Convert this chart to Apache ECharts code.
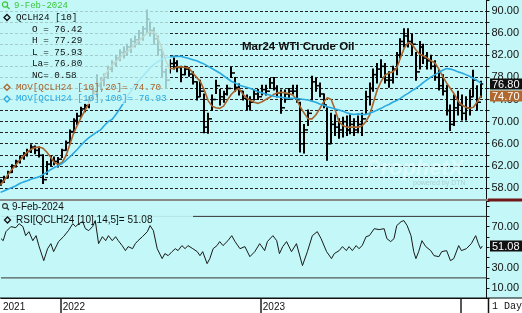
<!DOCTYPE html>
<html><head><meta charset="utf-8">
<script src="https://cdn.jsdelivr.net/npm/echarts@6.0.0/dist/echarts.min.js"></script>
<style>html,body{margin:0;padding:0;background:#c4f7f7;overflow:hidden}#chart{width:522px;height:313px}</style>
</head><body><div id="chart"></div>
<script>
// ---------------- data (weekly samples) ----------------
// day offsets are counted from 14-Sep-2021; price bars are one per week (Wednesday)
const priceLow = [58.5,59.0,59.8,60.8,61.8,62.5,63.2,63.8,64.4,64.2,63.6,58.8,60.5,62.0,62.2,61.8,63.5,64.8,66.0,68.0,69.5,70.8,71.8,72.5,74.0,74.5,75.8,76.5,77.8,79.0,80.0,81.0,81.5,82.0,82.5,83.5,84.0,84.7,86.0,85.5,84.0,82.0,78.0,76.0,78.8,79.5,79.0,77.2,78.5,78.2,76.8,73.9,74.5,68.0,67.9,72.0,75.1,73.0,73.5,74.8,78.0,75.5,74.8,73.9,72.1,72.1,73.9,74.0,74.8,74.8,76.0,75.7,74.5,71.5,73.5,74.0,75.0,73.5,64.5,64.3,69.3,73.9,75.5,74.5,72.5,63.0,66.0,67.5,67.0,67.2,67.5,67.8,67.5,68.0,67.5,71.5,73.0,75.5,77.0,78.0,77.0,76.2,77.0,78.5,81.5,83.5,83.5,82.0,77.5,79.5,80.5,79.5,79.5,77.5,75.7,74.8,71.2,68.4,69.3,71.2,70.3,70.3,71.2,74.5,72.1,74.4];
const priceHigh = [59.5,60.1,61.0,62.2,63.0,63.8,64.4,65.0,65.8,65.6,65.4,64.0,62.8,63.8,63.6,63.5,65.0,66.5,68.5,70.5,71.5,72.6,73.2,74.5,76.0,78.5,78.0,78.6,80.0,81.0,82.0,83.0,83.5,84.0,85.0,85.5,86.5,87.2,90.2,88.0,87.0,85.5,83.0,79.5,81.2,81.5,81.0,80.0,80.0,79.8,79.0,77.2,77.5,75.0,71.5,74.8,77.5,75.8,75.5,76.6,79.8,78.0,76.8,75.5,74.8,74.5,75.7,75.8,76.6,76.6,77.8,78.0,76.5,75.7,75.7,76.0,76.6,76.6,73.5,69.5,72.1,78.2,77.8,77.0,75.0,72.5,71.5,71.2,70.5,70.8,71.0,71.2,70.5,71.0,71.5,75.5,77.0,79.5,80.5,81.2,80.5,79.0,80.0,82.5,85.0,86.8,86.8,85.8,82.5,84.5,84.0,82.5,82.0,81.0,79.3,78.5,76.6,73.0,74.8,75.5,74.8,74.5,75.7,79.3,76.5,77.3];
const priceClose = [59.2,59.8,60.8,62.0,62.8,63.5,64.2,64.6,65.4,64.8,63.9,59.5,62.3,63.0,62.8,63.2,64.8,66.2,68.2,70.2,71.0,72.3,72.9,74.0,75.5,76.5,77.5,78.0,79.5,80.5,81.5,82.5,82.6,83.5,84.5,84.8,86.0,86.8,88.5,86.5,85.0,83.0,79.0,77.5,80.5,80.6,79.8,78.5,79.5,78.6,77.2,74.5,75.5,69.0,70.5,74.0,76.5,74.5,75.0,76.0,78.8,76.2,75.5,74.2,72.8,73.5,75.0,74.5,75.8,75.5,77.0,76.0,75.2,72.5,75.0,75.5,75.5,74.0,66.0,68.5,71.5,77.2,76.5,75.0,73.0,66.0,69.5,69.0,68.5,70.0,68.5,69.5,68.5,69.5,70.5,74.5,76.0,78.5,79.5,80.0,77.5,77.5,79.5,82.0,84.5,85.5,84.5,84.0,79.0,83.5,81.5,81.0,80.0,78.0,76.5,75.5,72.0,69.5,72.5,73.0,71.5,72.5,74.5,77.5,73.5,76.8];
const ma20 = [58.6,59.4,60.5,61.4,62.2,63.0,63.8,64.5,65.0,65.3,65.4,65.2,64.5,63.6,62.6,62.3,62.6,63.8,65.8,67.9,69.4,70.8,72.1,73.3,74.5,76.0,77.2,78.3,79.3,80.2,80.9,81.5,82.2,82.7,83.3,84.0,84.6,85.3,85.9,86.3,86.2,85.0,83.2,81.0,79.6,79.6,79.9,79.9,79.8,79.7,78.8,78.0,77.2,75.7,73.8,72.8,72.5,72.4,72.8,73.9,74.9,75.6,76.0,75.0,74.3,73.8,73.5,73.3,73.6,74.0,74.4,74.9,75.2,75.3,75.2,75.1,74.8,74.0,72.6,71.5,70.5,70.5,71.2,72.3,73.5,74.3,74.0,72.2,70.0,69.3,69.0,69.0,69.0,69.0,69.2,70.0,71.2,73.5,75.8,77.3,78.4,78.8,79.0,79.6,81.5,83.3,84.3,84.0,83.0,82.2,81.9,81.5,81.0,80.6,79.5,78.2,77.0,76.0,75.0,73.7,73.0,72.6,72.4,72.6,73.6,74.7];
const ma100 = [57.2,57.5,57.8,58.1,58.4,58.8,59.1,59.3,59.6,59.8,60.0,60.4,60.8,61.3,61.7,62.0,62.4,63.0,63.6,64.3,65.0,65.8,66.5,67.1,67.6,68.1,68.5,69.3,70.0,70.4,71.3,72.3,73.4,74.6,75.6,76.6,77.4,78.2,79.0,79.8,80.4,80.9,81.3,81.6,81.7,81.8,81.8,81.8,81.6,81.4,81.2,81.0,80.7,80.4,80.0,79.6,79.2,78.8,78.3,77.8,77.3,77.0,76.6,76.4,76.2,76.0,75.7,75.4,75.2,75.0,74.8,74.6,74.5,74.4,74.3,74.2,74.2,74.2,74.1,74.0,73.9,73.7,73.5,73.2,73.0,72.7,72.5,72.3,72.1,71.9,71.6,71.4,71.3,71.4,71.3,71.3,71.5,71.8,72.1,72.4,72.8,73.1,73.5,73.8,74.2,74.7,75.1,75.6,76.0,76.5,77.1,77.6,78.1,78.5,78.9,79.3,79.6,79.5,79.3,79.0,78.8,78.5,78.2,77.8,77.4,76.93];
const rsiDay = [0,4,9,18,27,33,40,45,51,58,64,69,78,85,91,96,105,114,123,131,136,142,149,154,160,167,172,178,185,191,196,203,209,214,221,227,232,240,245,250,258,267,272,278,285,294,299,305,312,318,323,330,336,341,350,358,363,368,376,381,387,394,399,405,414,421,427,436,445,454,463,472,481,486,496,503,508,514,521,530,539,550,559,568,577,584,594,603,608,617,623,630,635,641,648,653,659,666,672,681,690,699,704,711,717,722,730,735,741,748,753,757,762,768,775,784,790,799,804,813,820,826,835,840,849,858,866,871,875,878];
const rsiVal = [58.3,56.3,65.1,70.0,69.0,72.9,70.0,61.2,65.1,56.3,61.2,51.5,36.8,48.5,53.4,45.6,55.4,60.2,66.1,72.9,70.0,72.9,74.9,68.0,66.1,70.0,75.9,53.4,60.2,56.3,61.2,56.3,60.2,56.3,51.5,46.6,50.5,48.5,53.4,56.3,60.2,65.1,71.0,66.1,48.5,38.8,43.7,41.7,45.6,48.5,46.6,51.5,48.5,51.5,48.5,45.6,41.7,45.6,33.9,38.8,48.5,51.5,55.4,51.5,56.3,61.2,55.4,48.5,50.5,40.7,45.6,53.4,46.6,55.4,61.2,56.3,43.7,50.5,55.4,45.6,53.4,32.0,45.6,61.2,65.1,58.3,45.6,38.8,43.7,46.6,50.5,46.6,50.5,46.6,51.5,48.5,51.5,60.2,61.2,68.0,67.1,68.0,58.3,55.4,58.3,71.0,74.9,75.9,71.0,61.2,45.6,38.8,45.6,56.3,50.5,46.6,41.7,40.7,45.6,46.6,36.8,38.8,51.5,46.6,48.5,53.4,61.2,53.4,48.5,51.08];
const priceLabels = [58,62,66,70,74,78,82,86,90];
const rsiLabels = [10,30,50,70];
const rsiLevels = [20,80];
const yearMarks = [[2022,0,1],[2023,0,1],[2024,0,1]];
const lastValues = {close:76.80, mov20:74.70, mov100:76.93, rsi:51.08};
const header = {date:'9-Feb-2024', sym:'QCLH24 [10]', O:'76.42', H:'77.29', L:'75.93', La:'76.80', NC:'0.58'};

// ---------------- build ----------------
const DAY = 86400000;
const t0 = new Date(2021, 8, 14).getTime();
const dayToTime = d => t0 + d * DAY;
const weekDay = priceClose.map((_, i) => 1 + 7 * i);
const xMin = dayToTime(0), xMax = dayToTime(885.7);
const yearTimes = yearMarks.map(a => new Date(a[0], a[1], a[2]).getTime());

const barData = priceClose.map((c, i) => [dayToTime(weekDay[i]), priceLow[i], priceHigh[i], c, i ? priceClose[i - 1] : c]);
const ma20Data = ma20.map((v, i) => [dayToTime(weekDay[i]), v]);
const ma100Data = ma100.map((v, i) => [dayToTime(weekDay[i]), v]);
const rsiData = rsiVal.map((v, i) => [dayToTime(rsiDay[i]), v]);

const BG = '#c4f7f7';
const BROWN = '#a8642c', BLUE = '#2aa8e0';
const MONO = 'Liberation Mono, Courier New, monospace';
const SANS = 'Liberation Sans, Arial, sans-serif';

const chart = echarts.init(document.getElementById('chart'), null, {renderer: 'canvas'});

const option = {
  animation: false,
  backgroundColor: BG,
  grid: [
    {left: 0, top: 0, width: 488, height: 199},
    {left: 0, top: 201, width: 488, height: 97.4}
  ],
  xAxis: [
    {type: 'value', gridIndex: 0, min: xMin, max: xMax, axisLine: {show: false}, axisTick: {show: false}, axisLabel: {show: false}, splitLine: {show: false}},
    {type: 'value', gridIndex: 1, min: xMin, max: xMax,
     axisLine: {show: true, lineStyle: {color: '#111', width: 1}},
     axisTick: {show: true, length: 15, lineStyle: {color: '#222', width: 1.5}, customValues: yearTimes},
     axisLabel: {show: true, customValues: [xMin].concat(yearTimes.slice(0, 2)),
       formatter: v => String(new Date(v).getFullYear()), align: 'left', padding: [0, 0, 0, 2], margin: 4,
       fontFamily: SANS, fontSize: 10, color: '#111', hideOverlap: false, showMinLabel: true},
     splitLine: {show: false}}
  ],
  yAxis: [
    {type: 'value', gridIndex: 0, position: 'right', min: 56, max: 92, interval: 2,
     axisLine: {show: true, lineStyle: {color: '#111'}},
     axisTick: {show: true, length: 3, lineStyle: {color: '#111'}},
     axisLabel: {formatter: v => priceLabels.includes(v) ? v.toFixed(2) : '', fontFamily: SANS, fontSize: 11, color: '#111', margin: 5},
     splitLine: {show: true, showMinLine: false, showMaxLine: false, lineStyle: {color: '#222', type: [3, 2], width: 1}}},
    {type: 'value', gridIndex: 1, position: 'right', min: 0, max: 95, interval: 10,
     axisLine: {show: true, lineStyle: {color: '#111'}},
     axisTick: {show: true, length: 3, lineStyle: {color: '#111'}},
     axisLabel: {formatter: v => rsiLabels.includes(v) ? v.toFixed(2) : '', fontFamily: SANS, fontSize: 11, color: '#111', margin: 5},
     splitLine: {show: false}}
  ],
  series: [
    {type: 'custom', name: 'bars', xAxisIndex: 0, yAxisIndex: 0, z: 2, clip: true,
     encode: {x: 0, y: [1, 2]},
     renderItem: (params, api) => {
       const t = api.value(0);
       const pl = api.coord([t, api.value(1)]);
       const ph = api.coord([t, api.value(2)]);
       const pc = api.coord([t, api.value(3)]);
       const po = api.coord([t, api.value(4)]);
       const x = Math.round(pl[0]);
       const st = {stroke: '#000', lineWidth: 2};
       const tk = {stroke: '#000', lineWidth: 1.5};
       return {type: 'group', children: [
         {type: 'line', shape: {x1: x, y1: ph[1] - 0.5, x2: x, y2: pl[1] + 0.5}, style: st},
         {type: 'line', shape: {x1: x - 2.2, y1: po[1], x2: x, y2: po[1]}, style: tk},
         {type: 'line', shape: {x1: x, y1: pc[1], x2: x + 2.2, y2: pc[1]}, style: tk}
       ]};
     },
     data: barData},
    {type: 'line', name: 'mov20', xAxisIndex: 0, yAxisIndex: 0, z: 3, showSymbol: false, data: ma20Data, lineStyle: {color: BROWN, width: 1.6}},
    {type: 'line', name: 'mov100', xAxisIndex: 0, yAxisIndex: 0, z: 3, showSymbol: false, data: ma100Data, lineStyle: {color: BLUE, width: 1.6}},
    ...rsiLevels.map(l => ({type: 'line', xAxisIndex: 1, yAxisIndex: 1, z: 2, showSymbol: false, silent: true, data: [[xMin, l], [xMax, l]], lineStyle: {color: '#333', width: 1}})),
    {type: 'line', name: 'rsi', xAxisIndex: 1, yAxisIndex: 1, z: 12, showSymbol: false, data: rsiData, lineStyle: {color: '#1a1a1a', width: 1}}
  ]
};
chart.setOption(option);

// ---------------- decorations / labels ----------------
function diamond(cx, cy, color) {
  return {type: 'polygon', z: 20, shape: {points: [[cx, cy - 3], [cx + 3, cy], [cx, cy + 3], [cx - 3, cy]]}, style: {fill: BG, stroke: color, lineWidth: 1.3}};
}
function txt(x, y, text, font, fill, z, align) {
  return {type: 'text', z: z || 20, x: x, y: y, style: {text: text, font: font, fill: fill, textAlign: align || 'left', textVerticalAlign: 'middle'}};
}
function badge(y, text, color) {
  return [
    {type: 'rect', z: 30, shape: {x: 490, y: Math.round(y) - 5.5, width: 32, height: 11}, style: {fill: color}},
    txt(492, Math.round(y) + 0.5, text, '11px ' + SANS, '#fff', 31)
  ];
}
const yClose = chart.convertToPixel({yAxisIndex: 0}, lastValues.close);
const yMa20 = chart.convertToPixel({yAxisIndex: 0}, lastValues.mov20);
const yRsi = chart.convertToPixel({yAxisIndex: 1}, lastValues.rsi);
const green = '#3cc63c';
const F9 = '9.3px ' + MONO;
const graphics = [
  txt(366, 169, 'ProphetX', 'italic bold 22px ' + SANS, 'rgba(235,255,255,0.6)', 1),
  txt(413, 183, 'powered by DTN', '7px ' + SANS, 'rgba(140,170,170,0.5)', 1),
  {type: 'rect', z: 10, shape: {x: 0, y: 0, width: 170, height: 104}, style: {fill: 'rgba(196,247,247,0.8)'}},
  {type: 'circle', z: 20, shape: {cx: 5, cy: 4.5, r: 2.6}, style: {fill: 'none', stroke: green, lineWidth: 1.2}},
  {type: 'line', z: 20, shape: {x1: 7, y1: 6.5, x2: 9.5, y2: 9}, style: {stroke: green, lineWidth: 1.4}},
  txt(14, 6, header.date, '9px ' + MONO, green),
  diamond(7, 17.5, '#111'),
  txt(16, 17.5, header.sym, F9, '#111'),
  txt(32, 29.3, 'O = ' + header.O, F9, '#111'),
  txt(32, 41, 'H = ' + header.H, F9, '#111'),
  txt(32, 52.7, 'L = ' + header.L, F9, '#111'),
  txt(32, 64, 'La= ' + header.La, F9, '#111'),
  txt(32, 75.5, 'NC= ' + header.NC, F9, '#111'),
  diamond(7, 87.3, BROWN),
  txt(16, 87.3, 'MOV[QCLH24 [10],20]= ' + lastValues.mov20.toFixed(2), F9, BROWN),
  diamond(7, 99, BLUE),
  txt(16, 99, 'MOV[QCLH24 [10],100]= ' + lastValues.mov100.toFixed(2), F9, BLUE),
  txt(242, 47, 'Mar24 WTI Crude Oil', 'bold 11.5px ' + SANS, '#111', 20),
  {type: 'line', z: 25, shape: {x1: 0, y1: 200, x2: 488, y2: 200}, style: {stroke: '#8a8a8a', lineWidth: 2}},
  {type: 'line', z: 25, shape: {x1: 488, y1: 200, x2: 522, y2: 200}, style: {stroke: '#701818', lineWidth: 3}},
  {type: 'rect', z: 10, shape: {x: 0, y: 201, width: 193, height: 23}, style: {fill: 'rgba(196,247,247,0.9)'}},
  {type: 'circle', z: 20, shape: {cx: 5, cy: 206, r: 2.4}, style: {fill: 'none', stroke: '#333', lineWidth: 1.1}},
  {type: 'line', z: 20, shape: {x1: 6.8, y1: 207.8, x2: 9, y2: 210}, style: {stroke: '#333', lineWidth: 1.3}},
  txt(12, 207.5, header.date, '10px ' + SANS, '#111'),
  diamond(7.5, 220, '#111'),
  txt(16, 220, 'RSI[QCLH24 [10],14,5]= ' + lastValues.rsi.toFixed(2), '10px ' + SANS, '#111'),
  {type: 'rect', z: 0, shape: {x: 0, y: 298.5, width: 522, height: 15}, style: {fill: '#fff'}},
  {type: 'line', z: 26, shape: {x1: 0, y1: 298, x2: 522, y2: 298}, style: {stroke: '#111', lineWidth: 1}},
  {type: 'line', z: 26, shape: {x1: 488.5, y1: 298, x2: 488.5, y2: 313}, style: {stroke: '#111', lineWidth: 1.5}},
  txt(492, 306, '1 Day', '10px ' + MONO, '#111', 26),
  ...badge(yClose, lastValues.close.toFixed(2), '#111'),
  ...badge(yMa20, lastValues.mov20.toFixed(2), '#b0682f'),
  ...badge(yRsi, lastValues.rsi.toFixed(2), '#111')
];
chart.setOption({graphic: {elements: graphics}});
</script></body></html>
